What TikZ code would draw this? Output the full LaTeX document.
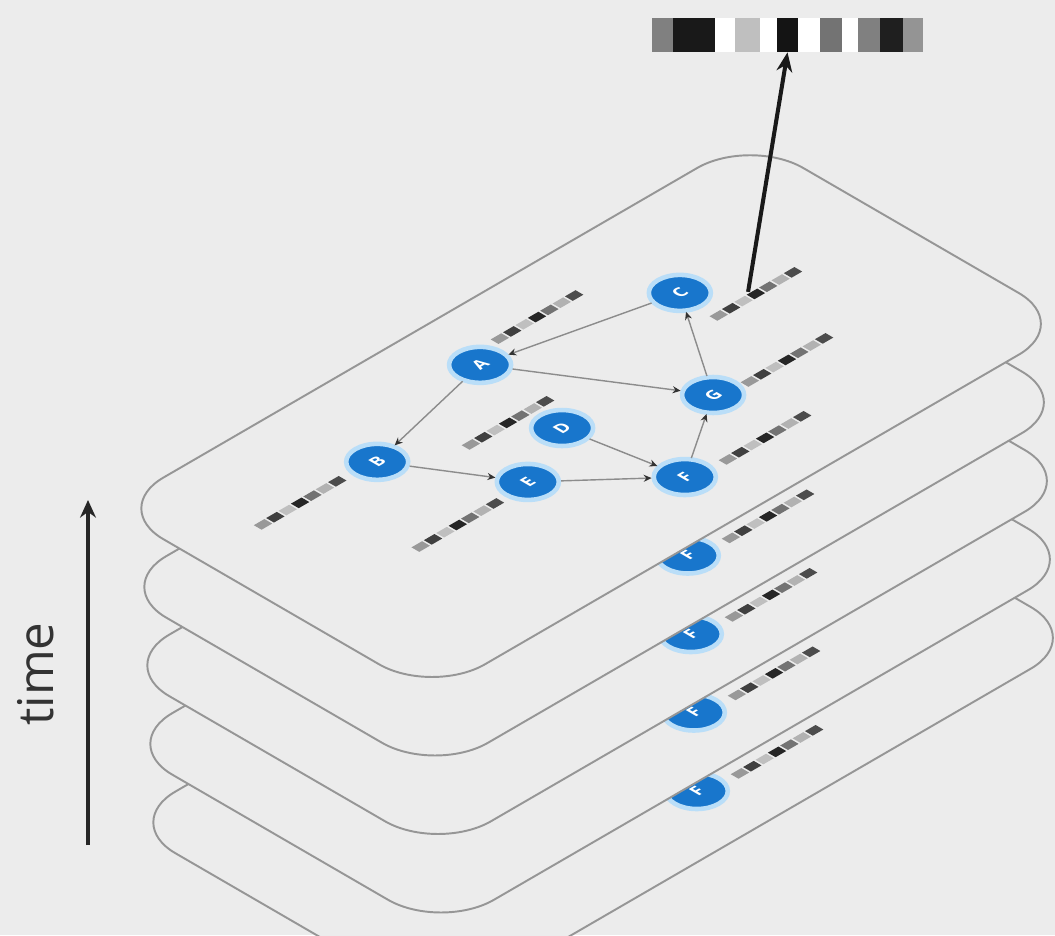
\documentclass[tikz,border=0pt]{standalone}
\usepackage{fontspec}
\setsansfont{Open Sans}
\usetikzlibrary{arrows.meta}

\definecolor{bgcol}{RGB}{236,236,236}
\definecolor{nodeblue}{RGB}{24,118,204}
\definecolor{glow}{RGB}{186,222,248}
\definecolor{rim}{RGB}{150,150,150}
\definecolor{linkgray}{RGB}{140,140,140}

% outline of one graph snapshot, in layer coordinates
\newcommand{\slab}{(1.5,0) -- (16.6,0) arc[start angle=-90,end angle=0,radius=1.5]
  -- (18.1,7.6) arc[start angle=0,end angle=90,radius=1.5]
  -- (1.5,9.1) arc[start angle=90,end angle=180,radius=1.5]
  -- (0,1.5) arc[start angle=180,end angle=270,radius=1.5] -- cycle}

% small feature vector next to a vertex
\newcommand{\featvec}[2]{%
  \foreach \k/\g in {0/40,1/75,2/25,3/85,4/55,5/30,6/70}
    \fill[black!\g] (#1-1.2+0.35*\k, #2-0.11) rectangle ++(0.3,0.22);}

\begin{document}
\begin{tikzpicture}[
  plane/.style={draw=rim, line width=1.1pt, fill=bgcol},
  vertex/.style={circle, fill=nodeblue, draw=glow, line width=2.6pt, minimum size=1.24cm,
    inner sep=0pt, text=white, font=\sffamily\bfseries\large, transform shape},
  link/.style={draw=linkgray, line width=0.8pt, -{Stealth[length=4.5pt, width=4pt, color=black!80]}},
]
\useasboundingbox (0,0) rectangle (21.1,18.7);
\clip (0,0) rectangle (21.1,18.7);
\fill[bgcol] (0,0) rectangle (21.1,18.7);

% older snapshots, only F shows
\foreach \i in {4,3,2,1} {
  \begin{scope}[shift={(8.64+0.06*\i, 4.80-1.57*\i)}, yscale=0.58, rotate=45]
    \draw[plane] \slab;
    \node[vertex] (F\i) at (8.89,1.74) {F};
    \featvec{10.98}{1.56}
  \end{scope}
}

% current snapshot
\begin{scope}[shift={(8.64,4.80)}, yscale=0.58, rotate=45]
  \draw[plane] \slab;

  \node[vertex] (A) at (8.73,7.37) {A};
  \node[vertex] (B) at (4.91,6.46) {B};
  \node[vertex] (C) at (13.31,6.30) {C};
  \node[vertex] (D) at (8.35,4.67) {D};
  \node[vertex] (E) at (6.55,3.84) {E};
  \node[vertex] (F) at (8.89,1.74) {F};
  \node[vertex] (G) at (11.29,3.34) {G};

  \draw[link] (C) -- (A);
  \draw[link] (A) -- (G);
  \draw[link] (A) -- (B);
  \draw[link] (G) -- (C);
  \draw[link] (B) -- (E);
  \draw[link] (E) -- (F);
  \draw[link] (D) -- (F);
  \draw[link] (F) -- (G);

  \featvec{10.70}{7.73}
  \featvec{2.82}{6.55}
  \featvec{14.36}{5.20}
  \featvec{7.71}{5.56}
  \featvec{4.51}{3.78}
  \featvec{10.98}{1.56}
  \featvec{13.19}{3.15}

  \coordinate (cvec) at (14.30,5.36);
\end{scope}

% graph level embedding
\node[minimum width=5.42cm, minimum height=0.68cm, inner sep=0pt] (emb) at (15.75,18.0) {};
\foreach \a/\b/\g in {13.04/13.46/50, 13.46/14.30/90, 14.30/14.70/0, 14.70/15.20/25,
    15.20/15.54/0, 15.54/15.96/92, 15.96/16.40/0, 16.40/16.84/55, 16.84/17.16/0,
    17.16/17.60/50, 17.60/18.06/88, 18.06/18.46/42}
  \fill[black!\g] (\a,17.66) rectangle (\b,18.34);

\draw[-{Stealth[length=11pt, width=9pt]}, line width=2.3pt, black!90] (cvec) -- (emb.south);

% time axis
\coordinate (tbot) at (1.76,1.80);
\coordinate (ttop) at (1.76,8.70);
\draw[-{Stealth[length=10pt, width=9pt]}, line width=2.2pt, black!85] (tbot) -- (ttop);
\node[rotate=90, font=\sffamily\fontsize{28}{28}\selectfont, text=black!80] (tlabel) at (0.72,5.22) {time};

\end{tikzpicture}
\end{document}
